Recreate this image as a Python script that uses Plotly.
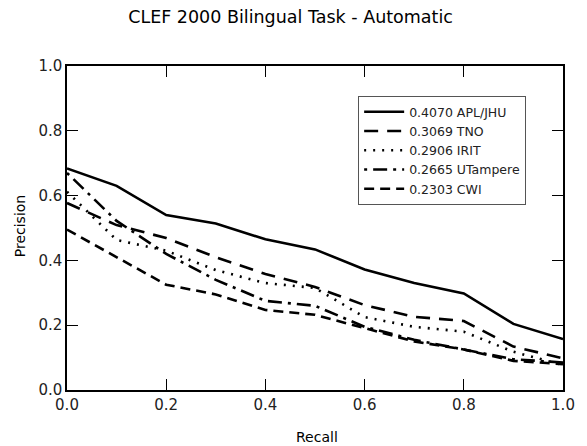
import plotly.graph_objects as go

recall = [0.0, 0.1, 0.2, 0.3, 0.4, 0.5, 0.6, 0.7, 0.8, 0.9, 1.0]
apl_jhu = [0.684, 0.630, 0.540, 0.514, 0.465, 0.434, 0.372, 0.330, 0.298, 0.204, 0.157]
tno = [0.577, 0.509, 0.469, 0.410, 0.358, 0.318, 0.262, 0.226, 0.213, 0.134, 0.098]
irit = [0.612, 0.463, 0.430, 0.370, 0.330, 0.315, 0.225, 0.195, 0.180, 0.118, 0.077]
utampere = [0.670, 0.522, 0.420, 0.340, 0.275, 0.260, 0.195, 0.155, 0.125, 0.095, 0.085]
cwi = [0.495, 0.410, 0.325, 0.295, 0.247, 0.232, 0.190, 0.150, 0.125, 0.090, 0.080]

names = ["0.4070 APL/JHU", "0.3069 TNO", "0.2906 IRIT", "0.2665 UTampere", "0.2303 CWI"]
series = [apl_jhu, tno, irit, utampere, cwi]
dashes = ["solid", "14px,9px", "2px,7px", "3px,6px,14px,6px", "10px,6px"]

fig = go.Figure()
for nm, ys, d in zip(names, series, dashes):
    fig.add_trace(go.Scatter(x=recall, y=ys, mode="lines", name=nm,
                             line=dict(color="black", width=2.6, dash=d)))

axis_common = dict(range=[0, 1], dtick=0.2, tickformat=".1f", ticks="inside", ticklen=11,
                   tickwidth=1, tickcolor="black", showline=True, linecolor="black",
                   linewidth=1.5, mirror="ticks", showgrid=False, zeroline=False,
                   tickfont=dict(size=15, color="#222"))

fig.update_layout(
    width=587, height=446,
    margin=dict(l=67, r=20, t=66, b=56),
    paper_bgcolor="white", plot_bgcolor="white",
    font=dict(family="DejaVu Sans", color="black"),
    title=dict(text="CLEF 2000 Bilingual Task - Automatic", x=0.495, xanchor="center",
               y=0.962, yanchor="middle", font=dict(size=17.5, color="black")),
    xaxis=dict(**axis_common),
    yaxis=dict(**axis_common),
    showlegend=True,
    legend=dict(x=0.587, y=0.907, xanchor="left", yanchor="top",
                bordercolor="#555", borderwidth=1, bgcolor="white",
                font=dict(size=12.5, color="#222"), tracegroupgap=0, itemwidth=40),
    annotations=[
        dict(text="Recall", x=0.505, y=-0.145, xref="paper", yref="paper",
             xanchor="center", yanchor="middle", showarrow=False, font=dict(size=14)),
        dict(text="Precision", x=-0.093, y=0.505, xref="paper", yref="paper",
             xanchor="center", yanchor="middle", showarrow=False, textangle=-90,
             font=dict(size=14)),
    ],
)

fig.write_html("out.html", config={"displayModeBar": False},
               post_script="document.body.style.margin='0';document.body.style.padding='0';")
